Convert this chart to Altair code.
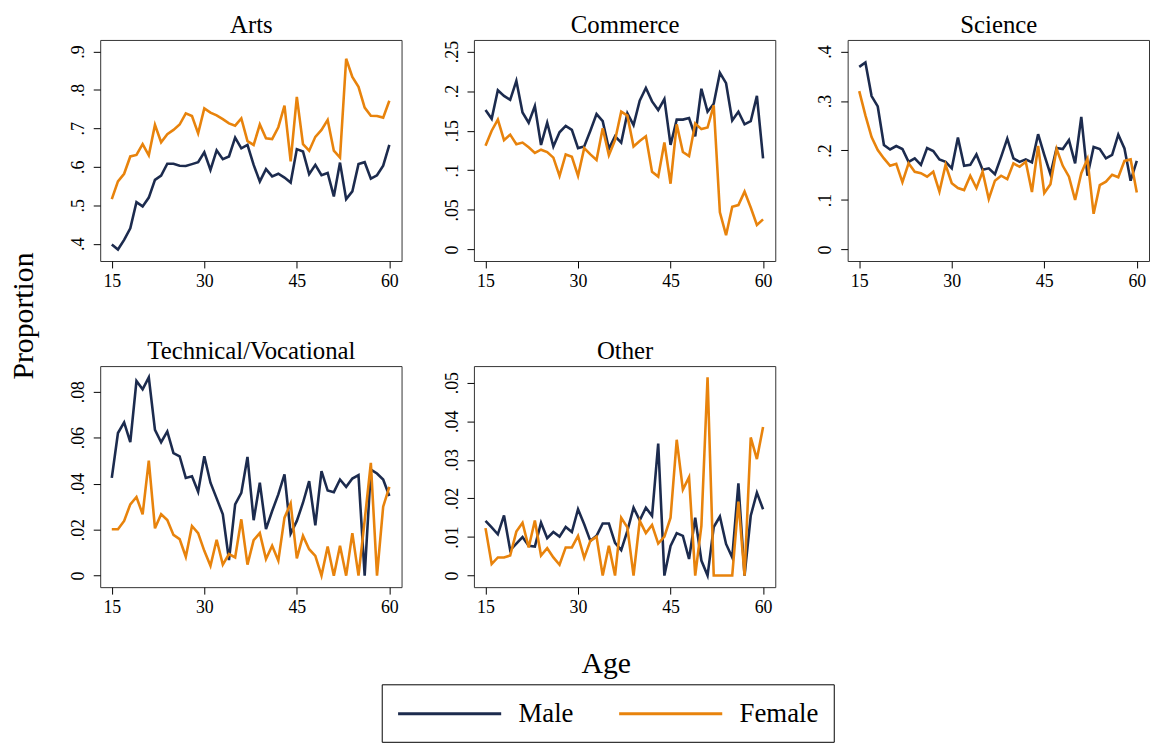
import altair as alt
import pandas as pd

ages = list(range(15, 61))
sexes = ["Male", "Female"]

arts_male = [.398, .385, .41, .44, .508, .497, .52, .566, .577,
             .608, .608, .603, .602, .607, .612, .638, .592, .643, .62,
             .627, .676, .648, .657, .605, .562, .594, .575, .582, .572,
             .559, .646, .64, .581, .605, .578, .584, .523, .611, .516,
             .536, .607, .612, .569, .578, .603, .657]
arts_female = [.516, .562, .582, .627, .631, .659, .63, .709, .664, .685,
               .696, .71, .739, .732, .687, .752, .741, .734, .724, .713,
               .707, .726, .667, .657, .71, .674, .672, .703, .759, .614,
               .782, .659, .642, .678, .696, .722, .642, .624, .881, .834,
               .808, .754, .733, .732, .728, .772]

commerce_male = [.176, .165, .201, .194, .189, .213, .173, .16, .181, .132,
                 .16, .13, .148, .156, .151, .128, .13, .15, .171, .162,
                 .127, .143, .135, .172, .157, .188, .204, .187, .176, .19,
                 .132, .164, .164, .166, .143, .203, .174, .184, .223, .21,
                 .163, .174, .158, .162, .194, .115]
commerce_female = [.131, .15, .164, .138, .145, .133, .135, .129, .122, .126,
                   .123, .116, .093, .12, .117, .093, .128, .12, .113, .153,
                   .119, .138, .174, .169, .13, .137, .143, .098, .092, .135,
                   .083, .158, .123, .118, .159, .152, .154, .182, .047, .018,
                   .054, .056, .073, .053, .031, .038]

science_male = [.369, .378, .31, .289, .211, .202, .209, .203, .177, .184,
                .171, .205, .199, .182, .177, .164, .226, .169, .171, .192,
                .161, .164, .152, .187, .224, .184, .177, .182, .176, .233,
                .191, .152, .205, .203, .221, .174, .268, .149, .207, .203,
                .184, .191, .232, .204, .139, .179]
science_female = [.32, .271, .227, .201, .184, .169, .173, .136, .174, .157,
                  .154, .147, .157, .117, .171, .134, .124, .12, .149, .124,
                  .157, .102, .139, .149, .142, .174, .167, .177, .116, .209,
                  .114, .132, .203, .169, .147, .10, .154, .183, .072, .13,
                  .137, .151, .146, .179, .182, .115]

tech_male = [.0425, .062, .0666, .058, .0846, .081, .0862, .0634, .058, .0627,
             .0533, .0519, .0425, .0432, .0365, .0519, .0404, .0336, .0267, .0068,
             .031, .036, .0516, .0241, .0404, .0202, .0281, .0353, .044, .0183,
             .0238, .0317, .0411, .0219, .0454, .037, .0363, .0418, .0386, .0422,
             .0437, 0.0, .0461, .0444, .0418, .0346]
tech_female = [.0202, .0202, .0238, .031, .0342, .0267, .05, .0206, .0267, .0242,
               .0177, .0159, .0082, .0216, .0185, .0108, .0043, .0156, .0048, .0094,
               .0079, .0245, .0048, .0154, .0185, .0072, .013, .0065, .0252, .0314,
               .0075, .0173, .0115, .0086, 0.0, .0127, 0.0, .013, 0.0, .0185,
               0.0, .024, .049, 0.0, .030, .0386]

other_male = [.0142, .0125, .0107, .0156, .0066, .0083, .01, .0077, .0075, .0137,
              .0097, .0113, .0101, .0126, .0113, .0172, .0133, .009, .0103, .0135,
              .0135, .0085, .0066, .0116, .0176, .0143, .0176, .0155, .0342, 0.0,
              .0077, .011, .0103, .0043, .015, .0039, 0.0, .0126, .0153, .0082,
              .0047, .0239, 0.0, .0155, .0215, .0172]
other_female = [.0123, .003, .0047, .0047, .0052, .0114, .0137, .0073, .0143, .0052,
                .0071, .0047, .0028, .0073, .0073, .0103, .0046, .009, .0101, 0.0,
                .0077, 0.0, .015, .0125, 0.0, .0142, .011, .0131, .0083, .0101,
                .015, .0352, .0223, .0255, 0.0, .0129, .0514, 0.0, 0.0, 0.0,
                0.0, .0192, 0.0, .0358, .0302, .0385]

series = {
    "Arts": (arts_male, arts_female),
    "Commerce": (commerce_male, commerce_female),
    "Science": (science_male, science_female),
    "Technical/Vocational": (tech_male, tech_female),
    "Other": (other_male, other_female),
}

rows = []
for panel, (m, f) in series.items():
    for sex, vals in (("Male", m), ("Female", f)):
        for a, v in zip(ages, vals):
            rows.append({"panel": panel, "sex": sex, "age": a, "value": v})
df = pd.DataFrame(rows)

FONT = "Liberation Serif"
NAVY = "#1c2b4e"
ORANGE = "#e8830c"
W, H = 304, 223
XDOM = [13.12, 61.98]

color = alt.Color(
    "sex:N",
    scale=alt.Scale(domain=sexes, range=[NAVY, ORANGE]),
    legend=alt.Legend(
        title=None, orient="none", legendX=284, legendY=650,
        direction="horizontal", symbolType="M-1,0H7", symbolSize=676,
        symbolStrokeWidth=3, labelFont=FONT, labelFontSize=27,
        labelColor="black", labelOffset=94, columnPadding=39,
        padding=15, strokeColor="black", fillColor="white",
    ),
)

LABEL_EXPR = "datum.value == 0 ? '0' : replace(format(datum.value, '~g'), '0.', '.')"


def panel(name, yvals, ydom, xtitle=None, xtitle_kw=None):
    # panel name drawn as the y-axis title, placed above the plot frame
    yaxis = alt.Axis(
        values=yvals, labelExpr=LABEL_EXPR, labelAngle=270,
        labelAlign="center", labelBaseline="bottom", labelPadding=6,
        title=name, titleAngle=0, titleX=W / 2, titleY=-8,
        titleAlign="center", titleBaseline="alphabetic", titleFontSize=25,
    )
    if xtitle:
        xaxis = alt.Axis(values=[15, 30, 45, 60], labelPadding=5,
                         title=xtitle, **xtitle_kw)
    else:
        xaxis = alt.Axis(values=[15, 30, 45, 60], labelPadding=5, title=None)
    return alt.Chart(df).transform_filter(
        alt.datum.panel == name
    ).mark_line(strokeWidth=2.6).encode(
        x=alt.X("age:Q", scale=alt.Scale(domain=XDOM, nice=False, zero=False),
                axis=xaxis),
        y=alt.Y("value:Q", scale=alt.Scale(domain=ydom, nice=False, zero=False),
                axis=yaxis),
        color=color,
    ).properties(width=W, height=H)


arts = panel("Arts", [.4, .5, .6, .7, .8, .9], [.355, .93])
commerce = panel("Commerce", [0, .05, .1, .15, .2, .25], [-.0146, .2646])
science = panel("Science", [0, .1, .2, .3, .4], [-.0234, .4234])
tech = panel("Technical/Vocational", [0, .02, .04, .06, .08], [-.005, .0911],
             xtitle="Proportion",
             xtitle_kw=dict(titleAngle=270, titleX=-77, titleY=-274,
                            titleAlign="center", titleBaseline="middle"))
other = panel("Other", [0, .01, .02, .03, .04, .05], [-.003, .0543],
              xtitle="Age",
              xtitle_kw=dict(titleX=133, titleY=86, titleAlign="center",
                             titleBaseline="alphabetic"))

chart = alt.concat(
    arts, commerce, science, tech, other,
    columns=3, spacing={"row": 106, "column": 73}, bounds="flush",
).properties(
    padding=0, background="white"
).configure_view(
    stroke="#333", strokeWidth=1
).configure_axis(
    labelFont=FONT, labelFontSize=18, labelColor="black",
    tickColor="black", tickSize=7, domain=False, grid=False,
    titleFont=FONT, titleFontSize=30, titleFontWeight="normal", titleColor="black",
)

chart.save("out.html", embed_options={"renderer": "svg", "actions": False})
